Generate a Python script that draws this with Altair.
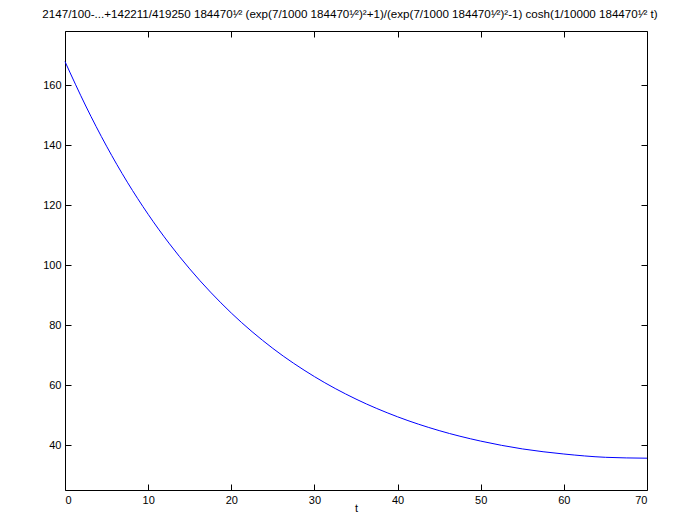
import altair as alt
import pandas as pd

# values
t_vals = [0, 2.5, 5, 7.5, 10, 12.5, 15, 20, 25, 30, 35, 40, 45, 50, 55, 60, 65, 70]
y_vals = [167.8, 153.0, 139.6, 127.6, 116.9, 107.3, 98.7, 84.0, 72.2, 62.8, 55.3, 49.4, 44.8, 41.3, 38.7, 37.0, 35.9, 35.6]

x_ticks = [0, 10, 20, 30, 40, 50, 60, 70]
y_ticks = [40, 60, 80, 100, 120, 140, 160]

title_text = ("2147/100-...+142211/419250 184470\u00b9\u2044\u00b2 (exp(7/1000 184470\u00b9\u2044\u00b2)\u00b2+1)"
              "/(exp(7/1000 184470\u00b9\u2044\u00b2)\u00b2-1) cosh(1/10000 184470\u00b9\u2044\u00b2 t)")

df = pd.DataFrame({"t": t_vals, "y": y_vals})

FONT = "Liberation Sans"
common = dict(labelFont=FONT, labelFontSize=11, labelColor="black", tickColor="black",
              tickSize=6, offset=-6, domain=False, grid=False)

xs = alt.Scale(domain=[0, 70], nice=False, zero=False)
ys = alt.Scale(domain=[25, 178], nice=False, zero=False)

base = alt.Chart(df)

line = base.mark_line(color="#0000ff", strokeWidth=1, interpolate="monotone").encode(
    x=alt.X("t:Q", scale=xs, axis=alt.Axis(orient="bottom", values=x_ticks, title="t",
                                             titleFont=FONT, titleFontSize=11, titleFontWeight="normal",
                                             titleColor="black", titleBaseline="alphabetic", titleY=27,
                                             labelPadding=4, **common)),
    y=alt.Y("y:Q", scale=ys, axis=alt.Axis(orient="left", values=y_ticks, title=None,
                                             labelPadding=4, **common)),
)

frame_axes = base.mark_line(strokeOpacity=0).encode(
    x=alt.X("t:Q", scale=xs, axis=alt.Axis(orient="top", values=x_ticks, title=None, labels=False, **common)),
    y=alt.Y("y:Q", scale=ys, axis=alt.Axis(orient="right", values=y_ticks, title=None, labels=False, **common)),
)

chart = alt.layer(line, frame_axes).resolve_axis(x="independent", y="independent").properties(
    width=582,
    height=459,
    autosize=alt.AutoSizeParams(type="none"),
    padding={"left": 57, "top": 23, "right": 45, "bottom": 25},
    title=alt.Title(title_text, font=FONT, fontSize=11.6, fontWeight="normal", color="black",
                    anchor="middle", offset=10, dx=-6),
).configure_view(stroke="black", strokeWidth=1)

chart.save("out.html", embed_options={"renderer": "svg", "actions": False})
